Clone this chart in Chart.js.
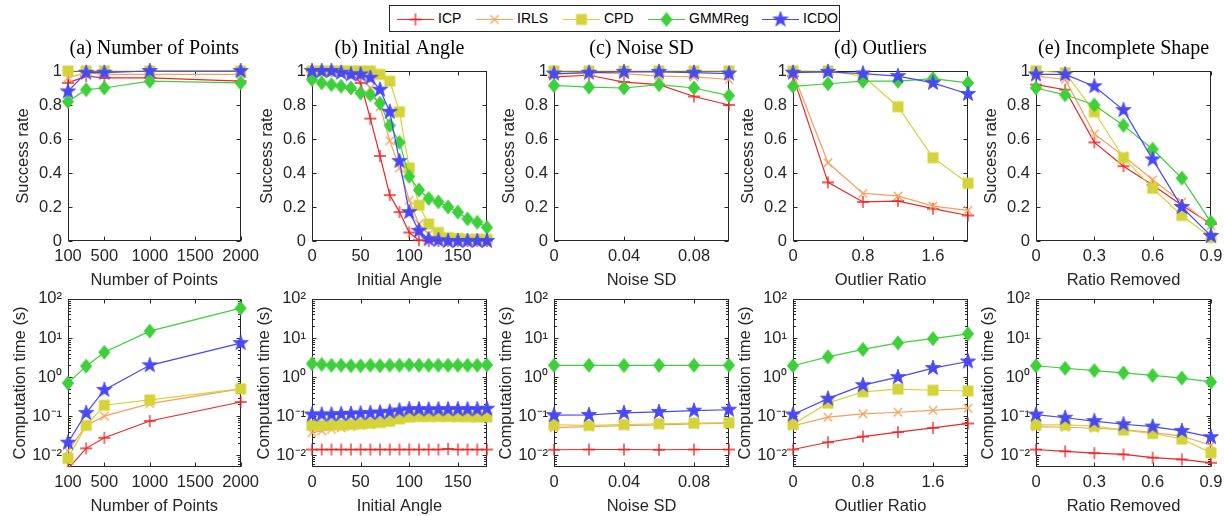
<!DOCTYPE html>
<html><head><meta charset="utf-8">
<script src="https://cdn.jsdelivr.net/npm/chart.js@4.4.0/dist/chart.umd.min.js"></script>
<style>
html,body{margin:0;padding:0;background:#fff}
body{width:1224px;height:516px;position:relative;overflow:hidden;font-family:"Liberation Sans",Arial,sans-serif}
canvas.p{position:absolute}
#legend{position:absolute;left:389px;top:5px;width:451px;height:27px;border:1px solid #262626;box-sizing:border-box;background:#fff}
#legend canvas{position:absolute;top:3px}
#legend span{position:absolute;top:0;height:25px;line-height:25px;font-size:14px;color:#000;white-space:nowrap}
</style></head><body>
<div id="legend"></div>
<script>
// ---------- series meta ----------
const METHODS = ['ICP','IRLS','CPD','GMMReg','ICDO'];
const COLORS  = ['rgb(238,38,38)','rgb(246,160,90)','rgb(212,212,58)','rgb(62,208,58)','rgb(72,72,246)'];
const MARKERS = ['plus','cross','square','diamond','star'];

// ---------- y ticks ----------
const successTicks = [0,0.2,0.4,0.6,0.8,1];
const successTickLabels = ['0','0.2','0.4','0.6','0.8','1'];
const timeTicks = [0.01,0.1,1,10,100];
const timeTickLabels = ['10⁻²','10⁻¹','10⁰','10¹','10²'];
const timeMin = 0.005, timeMax = 100;

// ---------- (a) Number of Points ----------
const aX = [100,300,500,1000,2000];
const aTicks = [100,500,1000,1500,2000];
const aTickLabels = ['100','500','1000','1500','2000'];
const aSucICP    = [0.93,0.97,0.96,0.96,0.94];
const aSucIRLS   = [0.96,0.99,0.98,0.98,0.98];
const aSucCPD    = [1,1,1,1,1];
const aSucGMMReg = [0.82,0.89,0.90,0.94,0.93];
const aSucICDO   = [0.88,0.99,0.99,1,1];
const aTimeICP    = [0.0045,0.015,0.028,0.075,0.23];
const aTimeIRLS   = [0.013,0.058,0.10,0.21,0.50];
const aTimeCPD    = [0.0083,0.058,0.19,0.26,0.50];
const aTimeGMMReg = [0.70,1.9,4.3,15,58];
const aTimeICDO   = [0.021,0.12,0.47,2.0,7.4];

// ---------- (b) Initial Angle ----------
const bX = [0,10,20,30,40,50,60,70,80,90,100,110,120,130,140,150,160,170,180];
const bTicks = [0,50,100,150];
const bTickLabels = ['0','50','100','150'];
const bSucICP    = [1,1,1,1,0.99,0.93,0.72,0.50,0.27,0.17,0.05,0.005,0,0,0,0,0,0,0];
const bSucIRLS   = [1,1,1,1,0.99,0.97,0.90,0.79,0.59,0.43,0.24,0.10,0.04,0.01,0,0,0,0,0];
const bSucCPD    = [1,1,1,1,1,1,1,0.98,0.94,0.76,0.43,0.21,0.10,0.05,0.02,0.015,0.01,0.01,0.01];
const bSucGMMReg = [0.95,0.93,0.92,0.91,0.90,0.87,0.86,0.81,0.68,0.58,0.38,0.30,0.25,0.23,0.20,0.17,0.13,0.11,0.08];
const bSucICDO   = [1,1,1,0.99,0.98,0.98,0.96,0.89,0.76,0.47,0.17,0.06,0.01,0.005,0,0,0,0,0];
const bTimeICP    = [0.014,0.014,0.014,0.014,0.014,0.014,0.014,0.014,0.014,0.014,0.014,0.014,0.014,0.014,0.0145,0.014,0.014,0.014,0.014];
const bTimeIRLS   = [0.038,0.042,0.046,0.050,0.054,0.058,0.062,0.067,0.075,0.085,0.093,0.095,0.095,0.095,0.095,0.095,0.094,0.094,0.094];
const bTimeCPD    = [0.058,0.058,0.060,0.060,0.062,0.064,0.066,0.069,0.074,0.085,0.095,0.098,0.098,0.098,0.098,0.097,0.097,0.096,0.096];
const bTimeGMMReg = [2.2,2.1,2.0,2.0,1.95,1.95,2.0,1.95,2.0,2.0,2.05,2.0,2.0,2.0,2.0,2.0,2.0,2.0,2.05];
const bTimeICDO   = [0.11,0.11,0.11,0.113,0.115,0.118,0.12,0.124,0.13,0.14,0.15,0.15,0.148,0.15,0.15,0.15,0.15,0.15,0.155];

// ---------- (c) Noise SD ----------
const cX = [0,0.02,0.04,0.06,0.08,0.1];
const cTicks = [0,0.04,0.08];
const cTickLabels = ['0','0.04','0.08'];
const cSucICP    = [0.965,0.975,0.935,0.92,0.85,0.80];
const cSucIRLS   = [0.98,0.99,0.985,0.97,0.965,0.95];
const cSucCPD    = [1,1,1,1,1,1];
const cSucGMMReg = [0.915,0.905,0.90,0.92,0.90,0.855];
const cSucICDO   = [0.985,0.99,0.995,0.995,0.99,0.985];
const cTimeICP    = [0.0138,0.014,0.014,0.0138,0.014,0.014];
const cTimeIRLS   = [0.051,0.054,0.057,0.060,0.063,0.066];
const cTimeCPD    = [0.060,0.058,0.061,0.064,0.066,0.068];
const cTimeGMMReg = [2.0,2.0,1.98,2.0,2.0,2.0];
const cTimeICDO   = [0.106,0.107,0.121,0.128,0.138,0.146];

// ---------- (d) Outliers ----------
const dX = [0,0.4,0.8,1.2,1.6,2.0];
const dTicks = [0,0.8,1.6];
const dTickLabels = ['0','0.8','1.6'];
const dSucICP    = [0.97,0.345,0.23,0.235,0.19,0.15];
const dSucIRLS   = [0.99,0.46,0.28,0.265,0.205,0.18];
const dSucCPD    = [1,1,0.97,0.79,0.49,0.34];
const dSucGMMReg = [0.91,0.925,0.94,0.94,0.955,0.93];
const dSucICDO   = [0.99,0.995,0.985,0.97,0.93,0.865];
const dTimeICP    = [0.014,0.0215,0.030,0.039,0.050,0.065];
const dTimeIRLS   = [0.056,0.094,0.114,0.126,0.141,0.16];
const dTimeCPD    = [0.062,0.215,0.42,0.49,0.46,0.44];
const dTimeGMMReg = [1.95,3.3,5.1,7.5,9.6,12.8];
const dTimeICDO   = [0.11,0.28,0.62,1.0,1.7,2.5];

// ---------- (e) Incomplete Shape ----------
const eX = [0,0.15,0.3,0.45,0.6,0.75,0.9];
const eTicks = [0,0.3,0.6,0.9];
const eTickLabels = ['0','0.3','0.6','0.9'];
const eSucICP    = [0.92,0.89,0.58,0.44,0.33,0.21,0.10];
const eSucIRLS   = [0.97,0.95,0.63,0.50,0.36,0.23,0.09];
const eSucCPD    = [1.0,0.99,0.76,0.49,0.31,0.15,0.02];
const eSucGMMReg = [0.90,0.86,0.80,0.68,0.54,0.37,0.11];
const eSucICDO   = [0.98,0.98,0.91,0.77,0.48,0.20,0.03];
const eTimeICP    = [0.014,0.0126,0.0113,0.0105,0.0087,0.0078,0.0064];
const eTimeIRLS   = [0.054,0.052,0.049,0.045,0.038,0.031,0.018];
const eTimeCPD    = [0.060,0.060,0.056,0.044,0.036,0.026,0.0115];
const eTimeGMMReg = [1.95,1.68,1.47,1.28,1.10,0.94,0.75];
const eTimeICDO   = [0.11,0.091,0.075,0.062,0.054,0.042,0.029];

// ---------- panel definitions ----------
const COLS = [
  {title:'(a) Number of Points', xTitle:'Number of Points', xs:aX, xMin:100, xMax:2000, ticks:aTicks, labels:aTickLabels,
   success:[aSucICP,aSucIRLS,aSucCPD,aSucGMMReg,aSucICDO], time:[aTimeICP,aTimeIRLS,aTimeCPD,aTimeGMMReg,aTimeICDO]},
  {title:'(b) Initial Angle', xTitle:'Initial Angle', xs:bX, xMin:0, xMax:180, ticks:bTicks, labels:bTickLabels,
   success:[bSucICP,bSucIRLS,bSucCPD,bSucGMMReg,bSucICDO], time:[bTimeICP,bTimeIRLS,bTimeCPD,bTimeGMMReg,bTimeICDO]},
  {title:'(c) Noise SD', xTitle:'Noise SD', xs:cX, xMin:0, xMax:0.1, ticks:cTicks, labels:cTickLabels,
   success:[cSucICP,cSucIRLS,cSucCPD,cSucGMMReg,cSucICDO], time:[cTimeICP,cTimeIRLS,cTimeCPD,cTimeGMMReg,cTimeICDO]},
  {title:'(d) Outliers', xTitle:'Outlier Ratio', xs:dX, xMin:0, xMax:2, ticks:dTicks, labels:dTickLabels,
   success:[dSucICP,dSucIRLS,dSucCPD,dSucGMMReg,dSucICDO], time:[dTimeICP,dTimeIRLS,dTimeCPD,dTimeGMMReg,dTimeICDO]},
  {title:'(e) Incomplete Shape', xTitle:'Ratio Removed', xs:eX, xMin:0, xMax:0.9, ticks:eTicks, labels:eTickLabels,
   success:[eSucICP,eSucIRLS,eSucCPD,eSucGMMReg,eSucICDO], time:[eTimeICP,eTimeIRLS,eTimeCPD,eTimeGMMReg,eTimeICDO]}
];

// ---------- layout ----------
const PLOT_LEFT = [68,312,554,793,1036];
const PLOT_W = 175;
const Y_AXIS_W = 62, PAD_R = 22, X_AXIS_H = 50;
const SANS = '"Liberation Sans", Arial, Helvetica, sans-serif';
const SERIF = '"Liberation Serif", "Times New Roman", Times, serif';
const INK = '#262626';

// ---------- markers ----------
function makeMarker(type, color){
  const c = document.createElement('canvas');
  c.width = 22; c.height = 22;
  const g = c.getContext('2d');
  g.translate(11,11);
  g.strokeStyle = color; g.fillStyle = color; g.lineWidth = 1.3; g.lineJoin='miter';
  g.beginPath();
  if (type==='plus'){
    g.moveTo(-6,0); g.lineTo(6,0); g.moveTo(0,-6); g.lineTo(0,6); g.stroke();
  } else if (type==='cross'){
    g.moveTo(-4.2,-4.2); g.lineTo(4.2,4.2); g.moveTo(-4.2,4.2); g.lineTo(4.2,-4.2); g.stroke();
  } else if (type==='square'){
    g.rect(-5.5,-5.5,11,11); g.fill();
  } else if (type==='diamond'){
    g.moveTo(0,-7.4); g.lineTo(6.1,0); g.lineTo(0,7.4); g.lineTo(-6.1,0); g.closePath(); g.fill();
  } else if (type==='star'){
    const R=8, r=3.2;
    for (let k=0;k<10;k++){
      const ang = -Math.PI/2 + k*Math.PI/5;
      const rr = k%2===0 ? R : r;
      const px = rr*Math.cos(ang), py = rr*Math.sin(ang);
      if (k===0) g.moveTo(px,py); else g.lineTo(px,py);
    }
    g.closePath(); g.fill(); g.lineWidth=0.8; g.stroke();
  }
  return c;
}
const MARKER_IMGS = METHODS.map((m,i)=>makeMarker(MARKERS[i], COLORS[i]));

// ---------- frame plugin (MATLAB-like box with inward ticks) ----------
const framePlugin = {
  id:'frame',
  beforeDatasetsDraw(chart){
    const {ctx, chartArea:a, scales} = chart;
    const xs = scales.x, ys = scales.y;
    const L = Math.round(a.left)+0.5, R = Math.round(a.right)-0.5;
    const T = Math.round(a.top)+0.5, B = Math.round(a.bottom)-0.5;
    ctx.save();
    ctx.strokeStyle = INK; ctx.lineWidth = 1;
    ctx.strokeRect(L, T, R-L, B-T);
    ctx.beginPath();
    xs.ticks.forEach(t=>{
      const p = Math.round(xs.getPixelForValue(t.value))+0.5;
      ctx.moveTo(p,B); ctx.lineTo(p,B-4); ctx.moveTo(p,T); ctx.lineTo(p,T+4);
    });
    ys.ticks.forEach(t=>{
      const p = Math.round(ys.getPixelForValue(t.value))+0.5;
      ctx.moveTo(L,p); ctx.lineTo(L+4,p); ctx.moveTo(R,p); ctx.lineTo(R-4,p);
    });
    if (ys.type === 'logarithmic'){
      const d0 = Math.floor(Math.log10(ys.min)), d1 = Math.ceil(Math.log10(ys.max));
      for (let d=d0; d<d1; d++){
        for (let m=2; m<10; m++){
          const v = m*Math.pow(10,d);
          if (v<=ys.min || v>=ys.max) continue;
          const p = Math.round(ys.getPixelForValue(v))+0.5;
          ctx.moveTo(L,p); ctx.lineTo(L+2.5,p); ctx.moveTo(R,p); ctx.lineTo(R-2.5,p);
        }
      }
    }
    ctx.stroke();
    ctx.restore();
  }
};

// ---------- build panels ----------
function buildPanel(col, ci, row){
  const isTop = row===0;
  const cv = document.createElement('canvas');
  cv.className='p';
  const W = Y_AXIS_W + PLOT_W + PAD_R;
  const H = isTop ? 254 : 234;
  const top = isTop ? 37 : 283;
  cv.width = W; cv.height = H;
  cv.style.left = (PLOT_LEFT[ci]-Y_AXIS_W)+'px';
  cv.style.top = top+'px';
  document.body.appendChild(cv);

  const values = isTop ? col.success : col.time;
  const datasets = METHODS.map((m,i)=>({
    label:m,
    data: col.xs.map((x,k)=>({x:x, y:values[i][k]})),
    borderColor: COLORS[i],
    backgroundColor: COLORS[i],
    borderWidth: 1.2,
    pointStyle: MARKER_IMGS[i],
    pointRadius: 5,
    pointHoverRadius: 5,
    tension: 0,
    fill: false,
    order: 5-i,
    clip: {left:14, right:14, top:14, bottom: isTop ? 14 : 0}
  }));

  const tickFont = {family:SANS, size:16.5};
  new Chart(cv, {
    type:'line',
    data:{datasets},
    plugins:[framePlugin],
    options:{
      responsive:false, animation:false, devicePixelRatio:1,
      events:[],
      layout:{padding:{left:0, right:PAD_R, top: isTop ? 0 : 12, bottom:0}},
      plugins:{
        legend:{display:false},
        tooltip:{enabled:false},
        title: isTop ? {display:true, text:col.title, fullSize:false, color:'#000',
                        font:{family:SERIF, size:20, weight:'normal', lineHeight:1.2},
                        padding:{top:0,bottom:10}} : {display:false}
      },
      scales:{
        x:{
          type:'linear', min:col.xMin, max:col.xMax,
          afterBuildTicks:(s)=>{ s.ticks = col.ticks.map(v=>({value:v})); },
          afterFit:(s)=>{ s.height = X_AXIS_H; },
          ticks:{autoSkip:false, maxRotation:0, minRotation:0, padding:6, color:INK, font:tickFont,
                 callback:(v,i)=>col.labels[i]},
          grid:{display:false, drawTicks:false},
          border:{display:false},
          title:{display:true, text:col.xTitle, color:INK, font:tickFont, padding:{top:0,bottom:1}}
        },
        y: isTop ? {
          type:'linear', min:0, max:1,
          afterBuildTicks:(s)=>{ s.ticks = successTicks.map(v=>({value:v})); },
          afterFit:(s)=>{ s.width = Y_AXIS_W; },
          ticks:{padding:6, color:INK, font:tickFont, callback:(v,i)=>successTickLabels[i]},
          grid:{display:false, drawTicks:false},
          border:{display:false},
          title:{display:true, text:'Success rate', color:INK, font:tickFont, padding:{top:8,bottom:0}}
        } : {
          type:'logarithmic', min:timeMin, max:timeMax,
          afterBuildTicks:(s)=>{ s.ticks = timeTicks.map(v=>({value:v})); },
          afterFit:(s)=>{ s.width = Y_AXIS_W; },
          ticks:{padding:6, color:INK, font:tickFont, callback:(v,i)=>timeTickLabels[i]},
          grid:{display:false, drawTicks:false},
          border:{display:false},
          title:{display:true, text:'Computation time (s)', color:INK, font:tickFont, padding:{top:5,bottom:0}}
        }
      }
    }
  });
}

COLS.forEach((col,ci)=>{ buildPanel(col,ci,0); buildPanel(col,ci,1); });

// ---------- legend ----------
const LEG_LINE_X = [397,476,563,648,762];
const legend = document.getElementById('legend');
METHODS.forEach((m,i)=>{
  const c = document.createElement('canvas');
  c.width = 37; c.height = 20;
  c.style.left = (LEG_LINE_X[i]-390)+'px';
  const g = c.getContext('2d');
  g.strokeStyle = COLORS[i]; g.lineWidth = 1.2;
  g.beginPath(); g.moveTo(0,10.5); g.lineTo(37,10.5); g.stroke();
  g.drawImage(MARKER_IMGS[i], 18.5-11, 10.5-11);
  legend.appendChild(c);
  const s = document.createElement('span');
  s.textContent = m;
  s.style.left = (LEG_LINE_X[i]-390+41)+'px';
  legend.appendChild(s);
});
</script>
</body></html>
